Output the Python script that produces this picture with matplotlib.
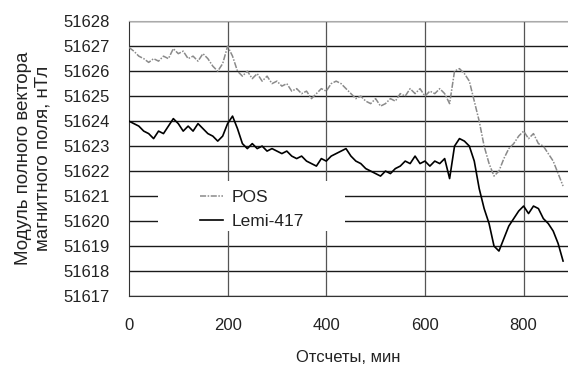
import matplotlib
matplotlib.use("Agg")
import matplotlib.pyplot as plt
from matplotlib.patches import Rectangle

plt.rcParams['font.family'] = ['Liberation Sans', 'DejaVu Sans']

minutes = list(range(0, 890, 10))

pos = [51626.95, 51626.8, 51626.6, 51626.5, 51626.35, 51626.5, 51626.4, 51626.6, 51626.5, 51626.9,
       51626.7, 51626.8, 51626.5, 51626.6, 51626.4, 51626.7, 51626.5, 51626.2, 51626.0, 51626.3,
       51627.0, 51626.6, 51626.0, 51625.8, 51626.0, 51625.7, 51625.9, 51625.6, 51625.8, 51625.5,
       51625.6, 51625.4, 51625.5, 51625.2, 51625.3, 51625.1, 51625.2, 51624.9, 51625.1, 51625.3,
       51625.2, 51625.5, 51625.6, 51625.5, 51625.3, 51625.1, 51624.9, 51625.0, 51624.8, 51624.7,
       51624.9, 51624.6, 51624.7, 51624.9, 51624.8, 51625.1, 51625.0, 51625.3, 51625.1, 51625.3,
       51625.0, 51625.2, 51625.1, 51625.3, 51625.1, 51624.7, 51626.0, 51626.1, 51625.9, 51625.6,
       51624.8, 51624.0, 51623.0, 51622.3, 51621.8, 51622.0, 51622.5, 51622.9, 51623.1, 51623.4,
       51623.6, 51623.3, 51623.5, 51623.1, 51623.0, 51622.7, 51622.4, 51621.9, 51621.4]

lemi = [51624.0, 51623.9, 51623.8, 51623.6, 51623.5, 51623.3, 51623.6, 51623.5, 51623.8, 51624.1,
        51623.9, 51623.6, 51623.8, 51623.6, 51623.9, 51623.7, 51623.5, 51623.4, 51623.2, 51623.4,
        51623.9, 51624.2, 51623.7, 51623.1, 51622.9, 51623.1, 51622.9, 51623.0, 51622.8, 51622.9,
        51622.8, 51622.7, 51622.8, 51622.6, 51622.5, 51622.6, 51622.4, 51622.3, 51622.2, 51622.5,
        51622.4, 51622.6, 51622.7, 51622.8, 51622.9, 51622.6, 51622.4, 51622.3, 51622.1, 51622.0,
        51621.9, 51621.8, 51622.0, 51621.9, 51622.1, 51622.2, 51622.4, 51622.3, 51622.6, 51622.3,
        51622.4, 51622.2, 51622.4, 51622.3, 51622.5, 51621.7, 51623.0, 51623.3, 51623.2, 51623.0,
        51622.4, 51621.3, 51620.5, 51619.9, 51619.0, 51618.8, 51619.3, 51619.8, 51620.1, 51620.4,
        51620.6, 51620.3, 51620.6, 51620.5, 51620.1, 51619.9, 51619.6, 51619.1, 51618.4]

series_labels = ['POS', 'Lemi-417']
x_ticks = [0, 200, 400, 600, 800]
y_ticks = list(range(51617, 51629))

fig = plt.figure(figsize=(5.68, 3.65), dpi=100)
ax = fig.add_axes([0.227, 0.189, 0.773, 0.753])

ax.set_xlim(0, 890)
ax.set_ylim(51617, 51628)

for v in y_ticks:
    ax.axhline(v, color='#1a1a1a', lw=1.0, zorder=1)
for v in x_ticks[1:]:
    ax.axvline(v, color='#555555', lw=0.9, zorder=1)

# white legend background
ax.add_patch(Rectangle((0.066, 0.236), 0.425, 0.182, transform=ax.transAxes,
                       facecolor='white', edgecolor='none', zorder=2))

ax.plot(minutes, pos, color='#8a8a8a', lw=1.1, linestyle=(0, (4, 1, 1, 1)), zorder=3, label=series_labels[0])
ax.plot(minutes, lemi, color='black', lw=1.2, zorder=4, label=series_labels[1])

ax.set_xticks(x_ticks)
ax.set_yticks(y_ticks)
ax.tick_params(axis='both', length=0, labelsize=12, labelcolor='#222222')
ax.tick_params(axis='x', pad=16)
ax.tick_params(axis='y', pad=14)

ax.spines['right'].set_visible(False)
ax.spines['top'].set_color('#aaaaaa')
ax.spines['left'].set_color('#333333')
ax.spines['bottom'].set_color('#333333')

ax.set_xlabel('Отсчеты, мин', fontsize=12, labelpad=12, color='#222222')
ax.set_ylabel('Модуль полного вектора\nмагнитного поля, нТл', fontsize=13.5,
              labelpad=8, color='#222222', linespacing=1.25)

leg = ax.legend(loc='upper left', bbox_to_anchor=(0.162, 0.385), frameon=False,
                fontsize=12.5, handlelength=1.3, handletextpad=0.5,
                borderpad=0, borderaxespad=0, labelspacing=0.5)
for t in leg.get_texts():
    t.set_color('#222222')

fig.savefig('out.png', dpi=100)
